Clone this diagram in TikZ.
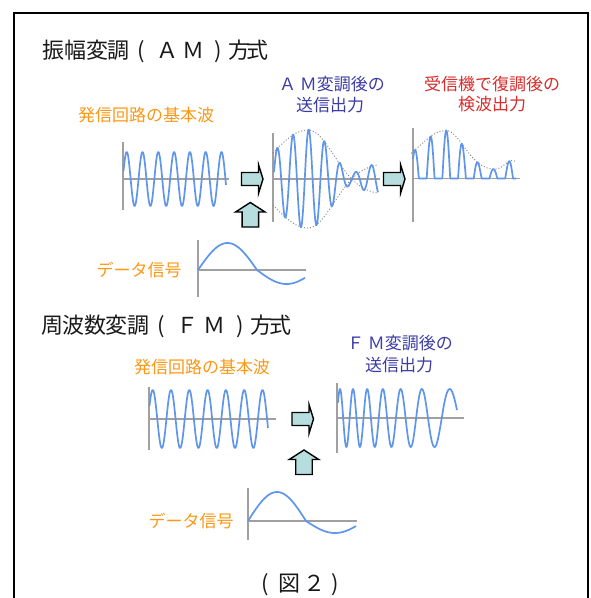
\documentclass[tikz,border=0pt]{standalone}
\usepackage{fontspec}
\setmainfont{Noto Sans CJK JP}
\definecolor{wavecol}{RGB}{95,150,235}
\definecolor{axiscol}{RGB}{160,160,160}
\definecolor{envcol}{RGB}{130,130,130}
\definecolor{arrowfill}{RGB}{182,222,222}
\definecolor{titlecol}{RGB}{25,25,25}
\definecolor{orangecol}{RGB}{252,152,20}
\definecolor{bluecol}{RGB}{60,60,165}
\definecolor{redcol}{RGB}{215,45,45}
\newcommand\jcell[2]{\makebox[#1pt]{#2}}
\begin{document}
\begin{tikzpicture}[x=1pt,y=-1pt,
  declare function={
    amd(\t)=(\t<308)?53:37;
    Eam(\t)=-16+65*exp(-((\t-308)/amd(\t))*((\t-308)/amd(\t)));
    dd(\t)=(\t<446)?38:25;
    Fd(\t)=8+40*exp(max(-9,-((\t-446)/dd(\t))*((\t-446)/dd(\t))))+10*exp(max(-9,-((\t-512)/10)*((\t-512)/10)));
  },
  wave/.style={draw=wavecol, line width=1.7pt, line join=round},
  haxis/.style={draw=axiscol, line width=1.2pt},
  vaxis/.style={draw=axiscol, line width=2pt},
  envelope/.style={draw=envcol, line width=0.9pt, dash pattern=on 1pt off 2pt},
  blockarrow/.style={draw=black, fill=arrowfill, line width=1.4pt, line join=miter},
  titletext/.style={inner sep=0pt, anchor=west, font=\fontsize{22}{26}\selectfont, text=titlecol},
  lbl/.style={inner sep=0pt, font=\fontsize{17}{20}\selectfont},
  orangelbl/.style={lbl, text=orangecol},
  bluelbl/.style={lbl, text=bluecol},
  redlbl/.style={lbl, text=redcol},
  rarrow/.pic={\path[blockarrow] (0,-6.5) -- (17,-6.5) -- (17,-14.5) -- (21.5,0) -- (17,14.5) -- (17,6.5) -- (0,6.5) -- cycle;},
  uarrow/.pic={\path[blockarrow] (0,0) -- (14.75,9.5) -- (8.25,9.5) -- (8.25,24.5) -- (-8.25,24.5) -- (-8.25,9.5) -- (-14.75,9.5) -- cycle;}
]
\useasboundingbox (0,0) rectangle (590,598);
\clip (0,0) rectangle (590,598);
\fill[white] (0,0) rectangle (590,598);
% frame
\draw[line width=1.6pt] (14,13) rectangle (588,640);

% ===== AM section =====
\node[titletext] (amtitle) at (42,51) {\jcell{22}{振}\jcell{22}{幅}\jcell{22}{変}\jcell{21.25}{調}\jcell{24.25}{(}\jcell{27.25}{Ａ}\jcell{26}{Ｍ}\jcell{23}{)}\jcell{18.75}{方}\jcell{17.5}{式}};

\node[orangelbl] (amcarlbl) at (146,115) {発信回路の基本波};
\node[bluelbl] (amoutlbl1) at (332,84) {Ａ Ｍ変調後の};
\node[bluelbl] (amoutlbl2) at (330,105) {送信出力};
\node[redlbl] (demlbl1) at (492,84) {受信機で復調後の};
\node[redlbl] (demlbl2) at (492,104) {検波出力};
\node[orangelbl] (amdatalbl) at (139,270) {データ信号};

% carrier
\draw[vaxis] (123,142) -- (123,210);
\draw[haxis] (123,179) -- (229,179);
\draw[wave] plot[domain=123.5:226, samples=260] (\x,{179-27*cos((\x-126.7)/15.8*360)});

% AM output
\draw[vaxis] (273,133) -- (273,222);
\draw[haxis] (273,179) -- (380,179);
\draw[envelope] plot[domain=273:378, samples=80] (\x,{179-Eam(\x)});
\draw[envelope] plot[domain=273:378, samples=80] (\x,{179+Eam(\x)});
\draw[wave] plot[domain=274:378, samples=300] (\x,{179-sqrt(Eam(\x)*Eam(\x)+36)*cos((\x-293)/15.7*360)});

% demodulated output
\draw[vaxis] (412.5,128) -- (412.5,222);
\draw[haxis] (412.5,178.5) -- (520,178.5);
\draw[envelope] plot[domain=411:516, samples=80] (\x,{178.5-Fd(\x)});
\draw[wave] plot[domain=413:516, samples=420] (\x,{178.5-Fd(\x)*max(0,cos((\x-446.3)/15.7*360))});

% arrows
\pic at (241.5,179) {rarrow};
\pic at (383.5,179) {rarrow};
\pic at (250.3,202.5) {uarrow};

% data signal
\draw[vaxis] (198,240) -- (198,297);
\draw[haxis] (198,270) -- (306,270);
\draw[wave] plot[domain=198:305, samples=120] (\x,{270-((sin((\x-198)/118*360)>0)?27:14)*sin((\x-198)/118*360)});

% ===== FM section =====
\node[titletext] (fmtitle) at (41.5,326) {\jcell{21}{周}\jcell{21.5}{波}\jcell{22}{数}\jcell{21.5}{変}\jcell{21.25}{調}\jcell{24.25}{(}\jcell{28.25}{Ｆ}\jcell{27}{Ｍ}\jcell{22.75}{)}\jcell{19.75}{方}\jcell{18.5}{式}};

\node[orangelbl] (fmcarlbl) at (202,367) {発信回路の基本波};
\node[bluelbl] (fmoutlbl1) at (400,343) {Ｆ Ｍ変調後の};
\node[bluelbl] (fmoutlbl2) at (399,365) {送信出力};
\node[orangelbl] (fmdatalbl) at (191,521) {データ信号};

% carrier
\draw[vaxis] (149,387) -- (149,450);
\draw[haxis] (149,419) -- (276,419);
\draw[wave] plot[domain=149.5:268, samples=260] (\x,{419-29*cos((\x-152.7)/18.3*360)});

% FM output
\draw[vaxis] (337,383) -- (337,453);
\draw[haxis] (337,418) -- (464,418);
\draw[wave] plot[domain=338:457, samples=300] (\x,{418-29*cos(360*(0.0798*(\x-340)-0.000225*(\x-340)*(\x-340)))});

% arrows
\pic at (292,419) {rarrow};
\pic at (304,450) {uarrow};

% data signal
\draw[vaxis] (248,488) -- (248,540);
\draw[haxis] (248,521) -- (357,521);
\draw[wave] plot[domain=248:356, samples=120] (\x,{521-((sin((\x-248)/116*360)>0)?29:12)*sin((\x-248)/116*360)});

% caption
\node[inner sep=0pt, anchor=west, font=\fontsize{22}{26}\selectfont, text=titlecol] (caption) at (254,585) {\jcell{23}{(}\jcell{24}{図}\jcell{26}{２}\jcell{17}{)}};
\end{tikzpicture}
\end{document}
